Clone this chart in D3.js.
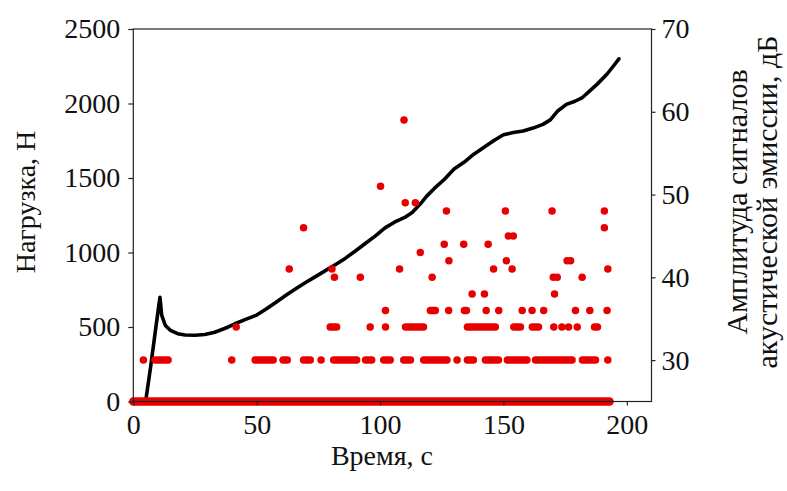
<!DOCTYPE html>
<html>
<head>
<meta charset="utf-8">
<script src="https://cdn.jsdelivr.net/npm/d3@7"></script>
<style>
  body { margin: 0; background: #fff; }
  svg { display: block; }
  .axis text { font-family: "Liberation Serif", "Times New Roman", serif; font-size: 28px; fill: #111; }
  .axis line { stroke: #222; stroke-width: 1.2; }
  .title { font-family: "Liberation Serif", "Times New Roman", serif; font-size: 28px; fill: #111; }
</style>
</head>
<body>
<script>
// load curve (time, s / load, N)
var loadTime = [5, 7, 9, 10.3, 10.8, 11.5, 13, 15, 18, 21, 25, 29, 33, 37, 41, 45, 50, 54, 58, 62, 66, 70, 74, 78, 82, 86, 90, 94, 98, 102, 106, 110, 113, 116, 119, 122, 126, 130, 134, 138, 142, 146, 150, 154, 158, 162, 166, 169, 172, 175.5, 179, 182, 185, 188, 192, 194.5, 196.8];
var loadValue = [0, 230, 480, 640, 700, 580, 510, 478, 455, 446, 445, 450, 465, 490, 520, 548, 580, 622, 668, 715, 758, 800, 840, 880, 920, 962, 1010, 1060, 1110, 1165, 1205, 1235, 1268, 1320, 1380, 1430, 1490, 1560, 1605, 1660, 1705, 1750, 1790, 1805, 1815, 1835, 1860, 1890, 1950, 1994, 2015, 2040, 2085, 2130, 2198, 2250, 2300];

// acoustic emission hits, per amplitude level (dB): single times or [from, to] runs of dense hits
var aeLevels = [25, 30, 34, 36, 38, 40, 41, 42, 43, 44, 45, 46, 48, 49, 51, 59];
var ae25 = [[0, 193]];
var ae30 = [4.1, [8.8, 14.1], 39.9, [49.4, 56.7], [60.7, 62.4], [69, 71.7], 76.1, [81.2, 90.5], [94.1, 96.6], [101.5, 104.1],
            [109.6, 112.3], [117.7, 127.1], 131.2, [135.4, 137.8], [142.7, 148], [151.6, 159.5], [163, 177.8], [182, 187.3], 192.3];
var ae34 = [41.7, [79.8, 82.4], 96, 102.2, [110.3, 117.6], [135.4, 146.7], [154.2, 156.9], [161.7, 164.2], 170.4, 173.7, 176.4, 179.9, [186.9, 188.1]];
var ae36 = [102.2, [120.4, 122.4], 127.8, [134.2, 135], 143, 148.1, 157.6, 161.6, 166.3, 179.2, 185, 192];
var ae38 = [137.3, 142.3, 170.7];
var ae40 = [81.5, 92, 121.1, 170.2, 171.8, 181.9];
var ae41 = [63.2, 80.5, 107.9, 146, 153.5, 192.3];
var ae42 = [127.9, 151.2, 175.8, 177.2];
var ae43 = [116.3];
var ae44 = [126, 133.9, 143.8];
var ae45 = [152, 154];
var ae46 = [69, 190.9];
var ae48 = [126.9, 150.8, 169.7, 190.9];
var ae49 = [110.2, 114.3];
var ae51 = [100.2];
var ae59 = [109.7];
var aeRows = [ae25, ae30, ae34, ae36, ae38, ae40, ae41, ae42, ae43, ae44, ae45, ae46, ae48, ae49, ae51, ae59];

var xTicks = [0, 50, 100, 150, 200];
var loadTicks = [0, 500, 1000, 1500, 2000, 2500];
var ampTicks = [30, 40, 50, 60, 70];

var W = 787, H = 491;
var plot = {left: 133.3, right: 651.5, top: 29, bottom: 401.5};

var svg = d3.select("body").append("svg").attr("width", W).attr("height", H);
svg.append("rect").attr("width", W).attr("height", H).attr("fill", "#fff");

var x = d3.scaleLinear().domain([0, 210]).range([plot.left, plot.right]);
var yLoad = d3.scaleLinear().domain([0, 2500]).range([plot.bottom, plot.top]);
var yAmp = d3.scaleLinear().domain([25, 70]).range([plot.bottom, plot.top]);

// load curve
var pts = loadTime.map(function(t, i) { return [t, loadValue[i]]; });
svg.append("path")
    .datum(pts)
    .attr("fill", "none")
    .attr("stroke", "#000")
    .attr("stroke-width", 3.6)
    .attr("stroke-linejoin", "round")
    .attr("stroke-linecap", "round")
    .attr("d", d3.line().x(function(d) { return x(d[0]); }).y(function(d) { return yLoad(d[1]); }));

// AE hits: each run is a thick round-capped segment, a single hit becomes a dot
var hits = [];
aeRows.forEach(function(row, i) {
    row.forEach(function(r) {
        var a = typeof r === "number" ? [r, r] : r;
        hits.push({from: a[0], to: a[1], db: aeLevels[i]});
    });
});
svg.append("g").selectAll("line")
    .data(hits).enter().append("line")
    .attr("x1", function(d) { return x(d.from); })
    .attr("x2", function(d) { return x(d.to); })
    .attr("y1", function(d) { return yAmp(d.db); })
    .attr("y2", function(d) { return yAmp(d.db); })
    .attr("stroke", "#e80000")
    .attr("stroke-width", function(d) { return d.db === 25 ? 8.5 : 7.5; })
    .attr("stroke-linecap", "round");

// frame
svg.append("rect")
    .attr("x", plot.left).attr("y", plot.top)
    .attr("width", plot.right - plot.left).attr("height", plot.bottom - plot.top)
    .attr("fill", "none").attr("stroke", "#222").attr("stroke-width", 1.2);

// axes
svg.append("g").attr("class", "axis")
    .attr("transform", "translate(0," + plot.bottom + ")")
    .call(d3.axisBottom(x).tickValues(xTicks).tickSize(4).tickSizeOuter(0).tickPadding(9));
svg.append("g").attr("class", "axis")
    .attr("transform", "translate(" + plot.left + ",0)")
    .call(d3.axisLeft(yLoad).tickValues(loadTicks).tickSize(5).tickSizeOuter(0).tickPadding(8).tickFormat(d3.format("d")));
svg.append("g").attr("class", "axis")
    .attr("transform", "translate(" + plot.right + ",0)")
    .call(d3.axisRight(yAmp).tickValues(ampTicks).tickSize(4).tickSizeOuter(0).tickPadding(6));
svg.selectAll(".axis .domain").remove();

// titles
svg.append("text").attr("class", "title")
    .attr("x", 382).attr("y", 465).attr("text-anchor", "middle")
    .text("Время, с");
svg.append("text").attr("class", "title")
    .attr("transform", "translate(35,202) rotate(-90)").attr("text-anchor", "middle")
    .text("Нагрузка, Н");
svg.append("text").attr("class", "title")
    .attr("transform", "translate(747,202) rotate(-90)").attr("text-anchor", "middle")
    .style("font-size", "30px")
    .text("Амплитуда сигналов");
svg.append("text").attr("class", "title")
    .attr("transform", "translate(777,202) rotate(-90)").attr("text-anchor", "middle")
    .style("font-size", "30px")
    .text("акустической эмиссии, дБ");
</script>
</body>
</html>
